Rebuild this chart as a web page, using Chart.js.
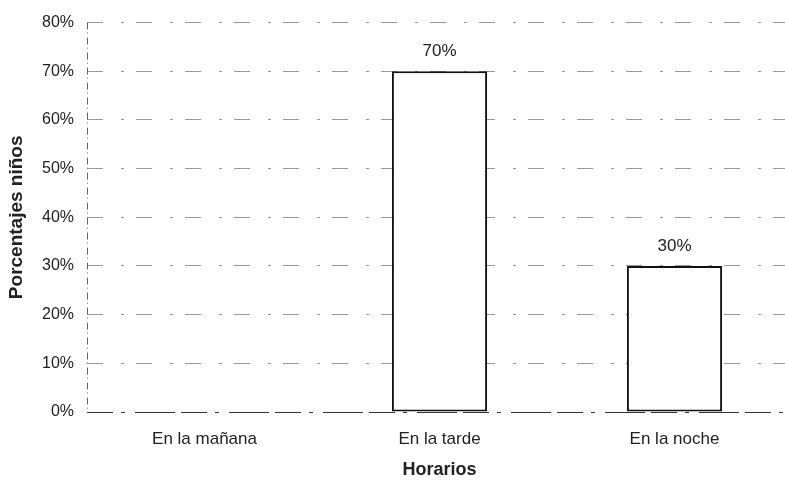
<!DOCTYPE html>
<html>
<head>
<meta charset="utf-8">
<script src="https://cdn.jsdelivr.net/npm/chart.js@4/dist/chart.umd.min.js"></script>
<style>
  html, body { margin: 0; padding: 0; background: #fff; overflow: hidden; }
  #wrap { width: 792px; height: 482px; }
</style>
</head>
<body>
<div id="wrap"><canvas id="c" width="792" height="482"></canvas></div>
<script>
// Share of children by time of day
const categories = ['En la mañana', 'En la tarde', 'En la noche'];
const percentages = [0, 70, 30];
const yTicks = [0, 10, 20, 30, 40, 50, 60, 70, 80];

const FONT = "'Liberation Sans', Arial, sans-serif";
const INK = '#222';

// Writes each bar's value above it
const valueLabels = {
  id: 'valueLabels',
  afterDatasetsDraw(chart) {
    const ctx = chart.ctx;
    const meta = chart.getDatasetMeta(0);
    ctx.save();
    ctx.font = '17px ' + FONT;
    ctx.fillStyle = INK;
    ctx.textAlign = 'center';
    ctx.textBaseline = 'alphabetic';
    meta.data.forEach((bar, i) => {
      const v = percentages[i];
      if (v > 0) ctx.fillText(v + '%', bar.x, bar.y - 15);
    });
    ctx.restore();
  }
};

// Dashed axis lines along the left and bottom of the plot
const dashedAxes = {
  id: 'dashedAxes',
  beforeDatasetsDraw(chart) {
    const { ctx, chartArea: a } = chart;
    const base = chart.scales.y.getPixelForValue(0);
    ctx.save();
    ctx.lineWidth = 1;
    ctx.strokeStyle = '#666';
    ctx.setLineDash([7, 3, 1, 4]);
    ctx.beginPath();
    ctx.moveTo(a.left + 0.5, a.top);
    ctx.lineTo(a.left + 0.5, base);
    ctx.stroke();
    ctx.strokeStyle = '#333';
    ctx.setLineDash([26, 8, 4, 10, 40, 6]);
    ctx.beginPath();
    ctx.moveTo(a.left, base + 0.5);
    ctx.lineTo(a.right, base + 0.5);
    ctx.stroke();
    ctx.restore();
  }
};

new Chart(document.getElementById('c'), {
  type: 'bar',
  data: {
    labels: categories,
    datasets: [{
      data: percentages,
      backgroundColor: '#fff',
      borderColor: '#111',
      borderWidth: 2,
      borderSkipped: false,
      categoryPercentage: 1,
      barPercentage: 0.405
    }]
  },
  options: {
    responsive: false,
    animation: false,
    layout: { padding: { top: 12, left: 0, right: 0, bottom: 1 } },
    plugins: { legend: { display: false }, tooltip: { enabled: false } },
    scales: {
      x: {
        grid: { display: false },
        border: { display: false },
        ticks: { color: INK, font: { family: FONT, size: 17 }, padding: 9 },
        title: { display: true, text: 'Horarios', color: INK, font: { family: FONT, size: 18, weight: 'bold' }, padding: { top: 6, bottom: 0 } },
        afterFit(s) { s.height = 69; }
      },
      y: {
        min: 0, max: 80,
        afterBuildTicks(s) { s.ticks = yTicks.map(v => ({ value: v })); },
        grid: { color: ctx => ctx.tick && ctx.tick.value === 0 ? 'rgba(0,0,0,0)' : '#999', lineWidth: 1, drawTicks: false },
        border: { display: false, dash: [16, 18, 3, 12] },
        ticks: { color: INK, font: { family: FONT, size: 16 }, padding: 13, callback: v => v + '%' },
        title: { display: true, text: 'Porcentajes niños', color: INK, font: { family: FONT, size: 19, weight: 'bold' }, padding: { top: 5, bottom: 4 } },
        afterFit(s) { s.width = 87; }
      }
    }
  },
  plugins: [dashedAxes, valueLabels]
});
</script>
</body>
</html>
